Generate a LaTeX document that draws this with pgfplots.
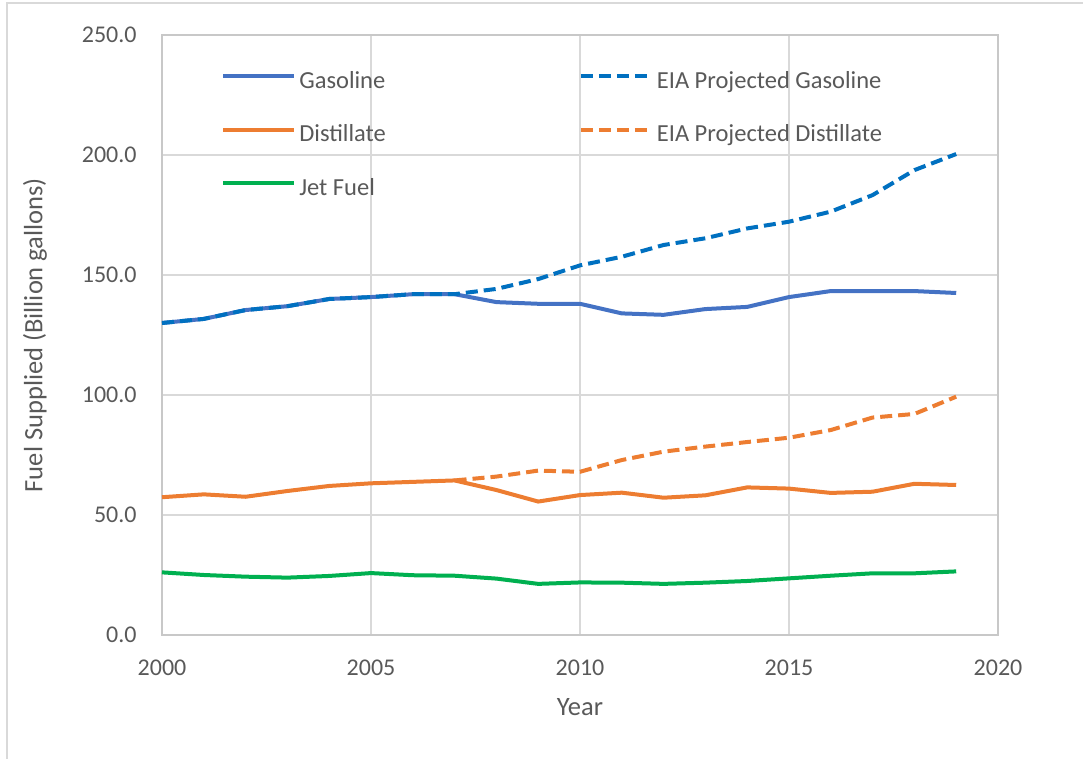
\documentclass[border=0pt]{standalone}
\usepackage{pgfplots}
\pgfplotsset{compat=1.18}
\usepackage{fontspec}
\setmainfont{Carlito}
\definecolor{txt}{HTML}{595959}
\definecolor{gridc}{HTML}{D9D9D9}
\definecolor{axc}{HTML}{C8C8C8}
\definecolor{gas}{HTML}{4472C4}
\definecolor{gasp}{HTML}{0070C0}
\definecolor{dist}{HTML}{ED7D31}
\definecolor{jet}{HTML}{00B050}
\begin{document}
\begin{tikzpicture}
\useasboundingbox (-81pt,-62pt) rectangle (462.5pt,317.5pt);
\draw[gridc, line width=0.75pt] (-77.5pt,-62pt) -- (-77.5pt,316pt) -- (460.5pt,316pt);
\begin{axis}[
  scale only axis,
  width=418pt, height=300pt,
  xmin=2000, xmax=2020, ymin=0, ymax=250,
  xtick={2000,2005,...,2020},
  ytick={0,50,...,250},
  grid=major,
  major grid style={gridc, line width=0.75pt},
  axis line style={axc, line width=0.75pt},
  major tick length=0pt,
  tick label style={font=\fontsize{12}{14}\selectfont, text=txt},
  /pgf/number format/assume math mode=true,
  xticklabel style={/pgf/number format/1000 sep={}, inner sep=0pt, yshift=-12.5pt},
  yticklabel style={/pgf/number format/.cd, fixed, fixed zerofill, precision=1, /tikz/.cd, inner sep=0pt, xshift=-12.5pt},
  xlabel={Year},
  ylabel={Fuel Supplied (Billion gallons)},
  every axis x label/.style={at={(axis description cs:0.5,-0.12)}, anchor=center, font=\fontsize{13.25}{15}\selectfont, text=txt},
  every axis y label/.style={at={(axis description cs:-0.1519,0.5)}, anchor=center, rotate=90, font=\fontsize{13.25}{15}\selectfont, text=txt},
  legend columns=2,
  legend image code/.code={\draw[#1] (0pt,3.2pt) -- (35.5pt,3.2pt);},
  legend style={at={(axis description cs:0.0705,0.94)}, anchor=north west,
    draw=none, fill=none, inner sep=0pt,
    font=\fontsize{12.25}{14}\selectfont, text=txt,
    nodes={inner sep=0pt, text height=8.5pt, text depth=3pt},
    column sep=1.5pt, row sep=15.25pt,
    /tikz/every even column/.append style={column sep=96.5pt}},
  legend cell align=left,
]
\addplot[gas, line width=2pt] coordinates {
(2000,130.0) (2001,131.7) (2002,135.4) (2003,137.0) (2004,140.0) (2005,140.8) (2006,142.0) (2007,142.0) (2008,138.7) (2009,138.0) (2010,138.0) (2011,134.0) (2012,133.4) (2013,135.8) (2014,136.7) (2015,140.8) (2016,143.3) (2017,143.3) (2018,143.3) (2019,142.5)};
\addlegendentry{Gasoline}
\addplot[gasp, line width=2pt, dash pattern=on 6pt off 3pt] coordinates {
(2000,130.0) (2001,131.7) (2002,135.4) (2003,137.0) (2004,140.0) (2005,140.8) (2006,142.0) (2007,142.0) (2008,144.2) (2009,148.3) (2010,154.0) (2011,157.6) (2012,162.5) (2013,165.3) (2014,169.4) (2015,172.2) (2016,176.4) (2017,183.3) (2018,193.7) (2019,200.4)};
\addlegendentry{EIA Projected Gasoline}
\addplot[dist, line width=2pt] coordinates {
(2000,57.4) (2001,58.6) (2002,57.6) (2003,60.0) (2004,62.1) (2005,63.2) (2006,63.8) (2007,64.4) (2008,60.4) (2009,55.6) (2010,58.3) (2011,59.3) (2012,57.2) (2013,58.2) (2014,61.5) (2015,61.0) (2016,59.2) (2017,59.7) (2018,63.0) (2019,62.5)};
\addlegendentry{Distillate}
\addplot[dist, line width=2pt, dash pattern=on 6pt off 3pt] coordinates {
(2007,64.4) (2008,66.0) (2009,68.5) (2010,68.0) (2011,72.9) (2012,76.4) (2013,78.5) (2014,80.4) (2015,82.2) (2016,85.4) (2017,90.6) (2018,92.1) (2019,99.3)};
\addlegendentry{EIA Projected Distillate}
\addplot[jet, line width=2pt] coordinates {
(2000,26.1) (2001,25.0) (2002,24.3) (2003,23.9) (2004,24.6) (2005,25.8) (2006,24.9) (2007,24.7) (2008,23.5) (2009,21.3) (2010,21.9) (2011,21.8) (2012,21.3) (2013,21.8) (2014,22.5) (2015,23.6) (2016,24.7) (2017,25.7) (2018,25.7) (2019,26.5)};
\addlegendentry{Jet Fuel}
\end{axis}
\end{tikzpicture}
\end{document}
